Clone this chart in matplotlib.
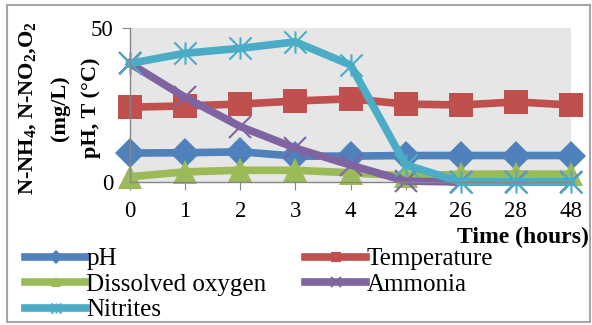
import numpy as np
import matplotlib
matplotlib.use("Agg")
import matplotlib.pyplot as plt
from matplotlib.path import Path
from matplotlib.patches import Rectangle

# data
time_labels = ["0", "1", "2", "3", "4", "24", "26", "28", "48"]
ph = [9.4, 9.5, 9.8, 8.4, 8.4, 8.6, 8.6, 8.6, 8.6]
temperature = [24.3, 24.7, 25.3, 26.3, 27.0, 25.3, 25.0, 26.0, 25.0]
dissolved_oxygen = [1.7, 3.3, 3.8, 3.8, 3.0, 2.0, 2.5, 2.6, 2.5]
ammonia = [38.5, 27.5, 18.0, 11.0, 5.5, 0.3, 0.0, 0.0, 0.0]
nitrites = [38.5, 41.8, 43.4, 45.5, 38.0, 5.6, 0.0, 0.0, 0.0]

plt.rcParams["font.family"] = ["Liberation Serif", "DejaVu Serif"]
plt.rcParams["mathtext.fontset"] = "custom"
plt.rcParams["mathtext.rm"] = "Liberation Serif:bold"
plt.rcParams["mathtext.default"] = "rm"

W, H = 592, 325
fig = plt.figure(figsize=(W / 100, H / 100), dpi=100)
ax = fig.add_axes([130 / W, 1 - 182 / H, 441 / W, 154 / H])
ax.set_facecolor("#E6E6E6")

# Excel style star marker: x with a vertical bar
star = Path([(0, -1), (0, 1), (-1, -1), (1, 1), (-1, 1), (1, -1)],
            [Path.MOVETO, Path.LINETO, Path.MOVETO, Path.LINETO, Path.MOVETO, Path.LINETO])

x = np.arange(len(time_labels))
series = [
    ("pH", ph, "#4F81BD", "D", 15),
    ("Temperature", temperature, "#C0504D", "s", 17),
    ("Dissolved oxygen", dissolved_oxygen, "#9BBB59", "^", 17),
    ("Ammonia", ammonia, "#8064A2", "x", 16),
    ("Nitrites", nitrites, "#4BACC6", star, 16),
]
handles = {}
for name, vals, col, mk, ms in series:
    if mk == "x" or mk is star:
        ln, = ax.plot(x, vals, color=col, lw=5.5, marker=mk, markersize=ms,
                      markeredgewidth=1.5, markeredgecolor=col, clip_on=False,
                      solid_joinstyle="round", label=name)
    else:
        ln, = ax.plot(x, vals, color=col, lw=5.5, marker=mk, markersize=ms,
                      markeredgewidth=0, clip_on=False, solid_joinstyle="round", label=name)
    handles[name] = ln

ax.set_xlim(0, 8)
ax.set_ylim(0, 50)
ax.set_xticks(x)
ax.set_xticklabels(time_labels)
ax.set_yticks([0, 50])
for s in ["top", "right"]:
    ax.spines[s].set_visible(False)
for s in ["left", "bottom"]:
    ax.spines[s].set_color("#868686")
    ax.spines[s].set_linewidth(1)
ax.tick_params(axis="both", direction="out", length=6, color="#868686", labelsize=16.5, pad=8)
ax.tick_params(axis="y", pad=6)

fig.text(589 / W, 1 - 237 / H, "Time (hours)", ha="right", va="center",
         fontsize=17, fontweight="bold", family="Liberation Serif")

ylab_lines = [(28, "N-NH$_4$, N-NO$_2$,O$_2$"), (60, "(mg/L)"), (91, "pH, T (°C)")]
for px, txt in ylab_lines:
    fig.text(px / W, 1 - 108 / H, txt, rotation=90, ha="center", va="center",
             fontsize=16, fontweight="bold", family="Liberation Serif")

order = ["pH", "Dissolved oxygen", "Nitrites", "Temperature", "Ammonia"]
fig.legend([handles[n] for n in order], order, ncol=2, loc="upper left",
           bbox_to_anchor=(25 / W, 1 - 248 / H), frameon=False,
           prop={"family": "Liberation Serif", "size": 18},
           handlelength=2.45, handletextpad=0.0, columnspacing=1.55,
           labelspacing=0.12, markerscale=0.45, borderpad=0, borderaxespad=0)

fig.patches.append(Rectangle((7 / W, 1 - 322 / H), 583 / W, 317 / H, transform=fig.transFigure,
                             fill=False, edgecolor="#A6A6A6", lw=1.5))

fig.savefig("out.png", dpi=100)
